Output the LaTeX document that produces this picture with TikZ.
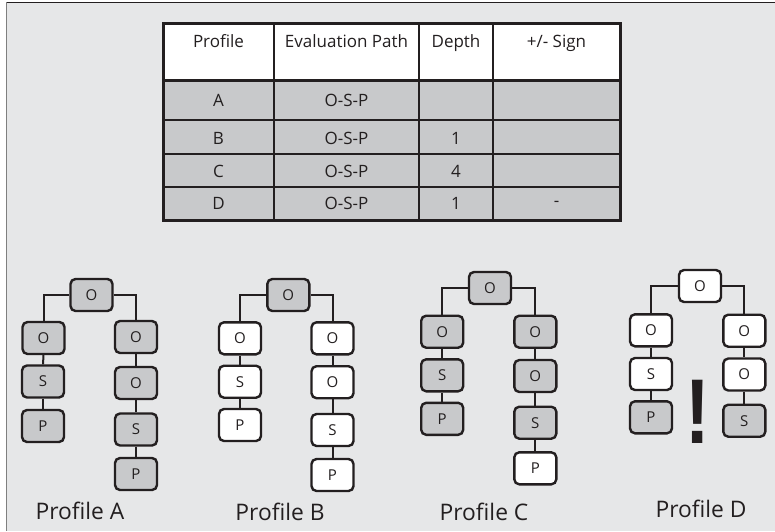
\documentclass[tikz,border=0pt]{standalone}
\usepackage{fontspec}
\setmainfont{Open Sans}
\newfontfamily\exclfont{Liberation Sans}
\usetikzlibrary{calc}
\definecolor{bg}{HTML}{E6E7E8}
\definecolor{ink}{HTML}{231F20}
\definecolor{cellgray}{HTML}{C8C9CB}
\definecolor{frameline}{HTML}{7F7F7F}
\tikzset{
  obox/.style={draw=ink, line width=2.4pt, rounded corners=5pt, minimum width=42pt, minimum height=32pt, inner sep=0pt, font=\fontsize{15}{15}\selectfont, text=ink},
  gbox/.style={obox, fill=cellgray},
  wbox/.style={obox, fill=white},
  conn/.style={draw=ink, line width=2pt},
  tabtext/.style={font=\fontsize{17}{17}\selectfont, text=ink, inner sep=0pt},
  proflabel/.style={font=\fontsize{22.8}{22.8}\selectfont, text=ink, anchor=base, inner sep=0pt},
  tline/.style={draw=ink, line width=2pt},
  touter/.style={draw=ink, line width=3pt}
}
\begin{document}
\begin{tikzpicture}[x=1pt,y=-1pt]
\useasboundingbox (0,0) rectangle (775,531);
\fill[white] (0,0) rectangle (775,531);
\fill[bg] (6,2) rectangle (775,531);
\draw[ink, line width=1.5pt] (6,2.5) -- (775,2.5);
\draw[frameline, line width=1.5pt] (6.5,2) -- (6.5,531);
% ---- table ----
\fill[white] (163,23) rectangle (620,80);
\fill[cellgray] (163,80) rectangle (620,220);
\draw[tline] (163,120) -- (620,120);
\draw[tline] (163,154) -- (620,154);
\draw[tline] (163,187) -- (620,187);
\draw[tline] (274,23) -- (274,222);
\draw[tline] (419,23) -- (419,222);
\draw[tline] (493,23) -- (493,222);
\draw[touter] (163,80) -- (620,80);
\draw[touter] (163,23) rectangle (620,220);
\node[tabtext, anchor=base] (h1) at (218.5,47) {Profile};
\node[tabtext, anchor=base] (h2) at (346.5,47) {Evaluation Path};
\node[tabtext, anchor=base] (h3) at (456,47) {Depth};
\node[tabtext, anchor=base] (h4) at (556.5,47) {+/- Sign};
\node[tabtext] (a1) at (218.5,100) {A};
\node[tabtext] (a2) at (346.5,100) {O-S-P};
\node[tabtext] (b1) at (218.5,138) {B};
\node[tabtext] (b2) at (346.5,138) {O-S-P};
\node[tabtext] (b3) at (456,138) {1};
\node[tabtext] (c1) at (218.5,171) {C};
\node[tabtext] (c2) at (346.5,171) {O-S-P};
\node[tabtext] (c3) at (456,171) {4};
\node[tabtext] (d1) at (218.5,203.5) {D};
\node[tabtext] (d2) at (346.5,203.5) {O-S-P};
\node[tabtext] (d3) at (456,203.5) {1};
\node[tabtext] (d4) at (556.5,203.5) {-};
% ---- Profile A ----
\node[gbox] (Ar) at (91.5,295) {O};
\node[gbox] (AL1) at (43.5,338) {O};
\node[gbox] (AL2) at (43,381.5) {S};
\node[gbox] (AL3) at (43,426) {P};
\node[gbox] (AR1) at (136,337) {O};
\node[gbox] (AR2) at (136,383) {O};
\node[gbox] (AR3) at (136,429.5) {S};
\node[gbox] (AR4) at (136,474) {P};
\draw[conn] (Ar.west) -| (AL1.north);
\draw[conn] (Ar.east) -| (AR1.north);
\draw[conn] (AL1) -- (AL2); \draw[conn] (AL2) -- (AL3);
\draw[conn] (AR1) -- (AR2); \draw[conn] (AR2) -- (AR3); \draw[conn] (AR3) -- (AR4);
\node[proflabel] (labA) at (80,519.3) {Profile A};
% ---- Profile B ----
\node[gbox] (Br) at (288.3,295) {O};
\node[wbox] (BL1) at (240,338.3) {O};
\node[wbox] (BL2) at (240,381.7) {S};
\node[wbox] (BL3) at (240,425) {P};
\node[wbox] (BR1) at (332.5,338.3) {O};
\node[wbox] (BR2) at (332.5,382.2) {O};
\node[wbox] (BR3) at (332.5,430) {S};
\node[wbox] (BR4) at (332.5,475) {P};
\draw[conn] (Br.west) -| (BL1.north);
\draw[conn] (Br.east) -| (BR1.north);
\draw[conn] (BL1) -- (BL2); \draw[conn] (BL2) -- (BL3);
\draw[conn] (BR1) -- (BR2); \draw[conn] (BR2) -- (BR3); \draw[conn] (BR3) -- (BR4);
\node[proflabel] (labB) at (280,520) {Profile B};
% ---- Profile C ----
\node[gbox] (Cr) at (490,288) {O};
\node[gbox] (CL1) at (442.2,331.7) {O};
\node[gbox] (CL2) at (442.2,375.3) {S};
\node[gbox] (CL3) at (442.2,418.8) {P};
\node[gbox] (CR1) at (535.3,331.7) {O};
\node[gbox] (CR2) at (535.3,376) {O};
\node[gbox] (CR3) at (535.3,422.7) {S};
\node[wbox] (CR4) at (535.3,468.3) {P};
\draw[conn] (Cr.west) -| (CL1.north);
\draw[conn] (Cr.east) -| (CR1.north);
\draw[conn] (CL1) -- (CL2); \draw[conn] (CL2) -- (CL3);
\draw[conn] (CR1) -- (CR2); \draw[conn] (CR2) -- (CR3); \draw[conn] (CR3) -- (CR4);
\node[proflabel] (labC) at (484,520.7) {Profile C};
% ---- Profile D ----
\node[wbox] (Dr) at (700,286) {O};
\node[wbox] (DL1) at (651,330.3) {O};
\node[wbox] (DL2) at (651,374) {S};
\node[gbox] (DL3) at (651,417.3) {P};
\node[wbox] (DR1) at (744.3,330.7) {O};
\node[wbox] (DR2) at (744.3,374.5) {O};
\node[gbox] (DR3) at (744.3,420.7) {S};
\draw[conn] (Dr.west) -| (DL1.north);
\draw[conn] (Dr.east) -| (DR1.north);
\draw[conn] (DL1) -- (DL2); \draw[conn] (DL2) -- (DL3);
\draw[conn] (DR1) -- (DR2); \draw[conn] (DR2) -- (DR3);
\node[anchor=base, inner sep=0pt, text=ink, font=\exclfont\bfseries\fontsize{92}{92}\selectfont] (excl) at (697.7,443.3) {\scalebox{0.8}[1]{!}};
\node[proflabel] (labD) at (701,517.7) {Profile D};
\end{tikzpicture}
\end{document}
